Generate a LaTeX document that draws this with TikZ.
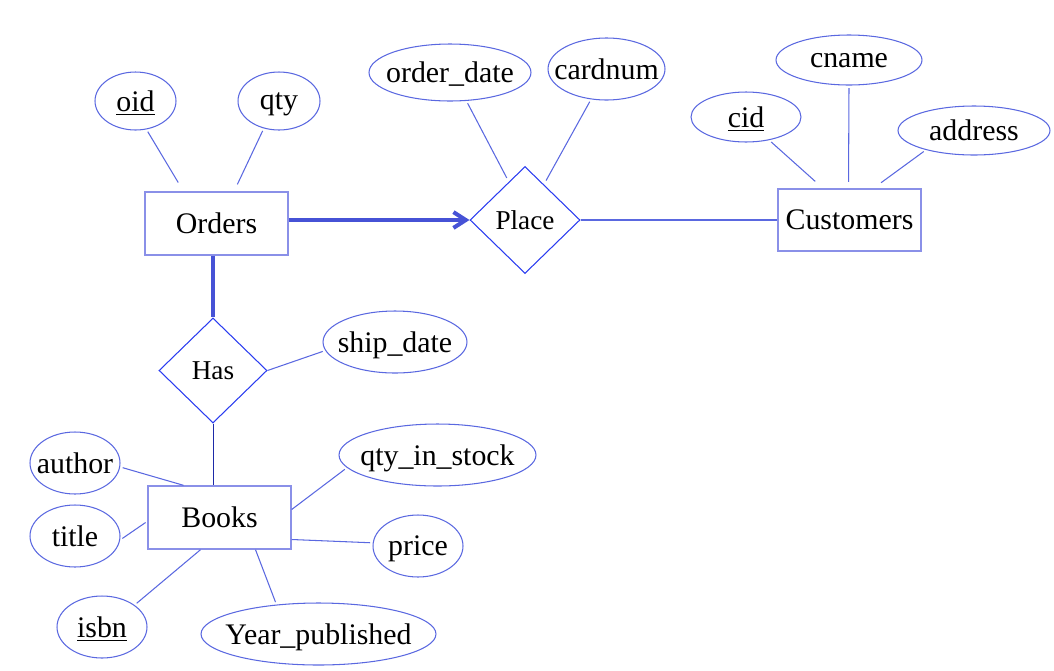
\documentclass[tikz,border=0pt]{standalone}
\usepackage{fontspec}
\setmainfont{Liberation Serif}
\usetikzlibrary{calc, arrows.meta, shapes.geometric}

\definecolor{boxcol}{HTML}{8A90E8}
\definecolor{ellcol}{HTML}{5A68E0}
\definecolor{diacol}{HTML}{2A3CF0}
\definecolor{boldcol}{HTML}{4652D6}

\newcommand{\attrlabel}[1]{\makebox[0pt]{#1}}

\tikzset{
    entity/.style={draw=boxcol, line width=0.8pt, minimum width=2.86cm, minimum height=1.26cm, text depth=0pt, font=\fontsize{17}{20}\selectfont},
    attr/.style={ellipse, draw=ellcol, line width=0.6pt, inner sep=0pt, minimum height=1.24cm, text depth=0pt, font=\fontsize{17}{20}\selectfont},
    relation/.style={diamond, draw=diacol, line width=0.6pt, inner sep=0pt, font=\fontsize{15.5}{18}\selectfont},
    attrline/.style={draw=ellcol, line width=0.6pt, shorten <=1.5pt, shorten >=2.5pt},
    boldline/.style={draw=boldcol, line width=2.3pt}
}

\begin{document}
\begin{tikzpicture}[x=0.02cm, y=-0.02cm]
    \useasboundingbox (0,0) rectangle (1054,670);

    % entities and relationships
    \node[entity] (orders) at (216.5,223.5) {Orders};
    \node[entity, minimum height=1.24cm] (customers) at (849.5,220) {Customers};
    \node[entity] (books) at (219.5,517.5) {Books};
    \node[relation, minimum width=2.2cm, minimum height=2.14cm] (place) at (525,220) {Place};
    \node[relation, minimum width=2.16cm, minimum height=2.1cm] (has) at (213,370.5) {Has};

    % attributes
    \node[attr, minimum width=1.62cm, minimum height=1.16cm] (oid) at (135.5,101) {\attrlabel{\underline{oid}}};
    \node[attr, minimum width=1.64cm, minimum height=1.16cm] (qty) at (279,101) {\attrlabel{qty}};
    \node[attr, minimum width=3.24cm, minimum height=1.14cm] (orderdate) at (450,72.5) {\attrlabel{order\_date}};
    \node[attr, minimum width=2.34cm] (cardnum) at (606.5,69) {\attrlabel{cardnum}};
    \node[attr, minimum width=2.2cm, minimum height=1.0cm] (cid) at (746,117) {\attrlabel{\underline{cid}}};
    \node[attr, minimum width=2.92cm, minimum height=1.0cm] (cname) at (849,60) {\attrlabel{cname}};
    \node[attr, minimum width=3.04cm, minimum height=0.98cm] (address) at (974,130.5) {\attrlabel{address}};
    \node[attr, minimum width=2.88cm] (shipdate) at (395,342) {\attrlabel{ship\_date}};
    \node[attr, minimum width=1.8cm] (author) at (75,463) {\attrlabel{author}};
    \node[attr, minimum width=1.8cm] (title) at (75,536) {\attrlabel{title}};
    \node[attr, minimum width=1.8cm] (isbn) at (102,627) {\attrlabel{\underline{isbn}}};
    \node[attr, minimum width=4.7cm] (yearpub) at (318.5,634) {\attrlabel{Year\_published}};
    \node[attr, minimum width=1.8cm] (price) at (418,546) {\attrlabel{price}};
    \node[attr, minimum width=3.94cm] (qtystock) at (437.5,455) {\attrlabel{qty\_in\_stock}};

    % relationship lines
    \draw[boldline, -{Straight Barb[length=7pt, width=9pt]}] (orders.east |- place.west) -- (place.west);
    \draw[boldline] (orders.south -| has.north) -- (has.north);
    \draw[attrline, shorten <=0pt, shorten >=0pt] (place.east) -- (place.east -| customers.west);
    \draw[draw=diacol!70!black, line width=0.5pt] (has.south) -- (has.south |- books.north);

    % attribute lines
    \draw[attrline] (oid.-69) -- ($(orders.north)+(-36,-5)$);
    \draw[attrline] (qty.-119) -- ($(orders.north)+(19,-3)$);
    \draw[attrline] (orderdate.-60) -- (place.113);
    \draw[attrline] (cardnum.-117) -- (place.62);
    \draw[attrline] (cid.-45) -- ($(customers.north)+(-31,-4)$);
    \draw[attrline] (cname.-90) -- ($(customers.north)+(-1,-2)$);
    \draw[attrline] (address.-158) -- ($(customers.north)+(28,-3)$);
    \draw[attrline, shorten >=0pt] (shipdate.187) -- (has.east);
    \draw[attrline, shorten >=0pt] (author.-5) -- ($(books.north)+(-36,0)$);
    \draw[attrline, shorten >=0.5pt] (title.-5) -- ($(books.west)+(-1,4.5)$);
    \draw[attrline, shorten >=0pt] (isbn.34) -- ($(books.south)+(-19,0)$);
    \draw[attrline, shorten >=0pt] (yearpub.145) -- ($(books.south)+(36,0)$);
    \draw[attrline, shorten >=0pt] (price.176) -- ($(books.east)+(0,22)$);
    \draw[attrline, shorten >=0pt] (qtystock.-172) -- ($(books.east)+(0,-8)$);
\end{tikzpicture}
\end{document}
